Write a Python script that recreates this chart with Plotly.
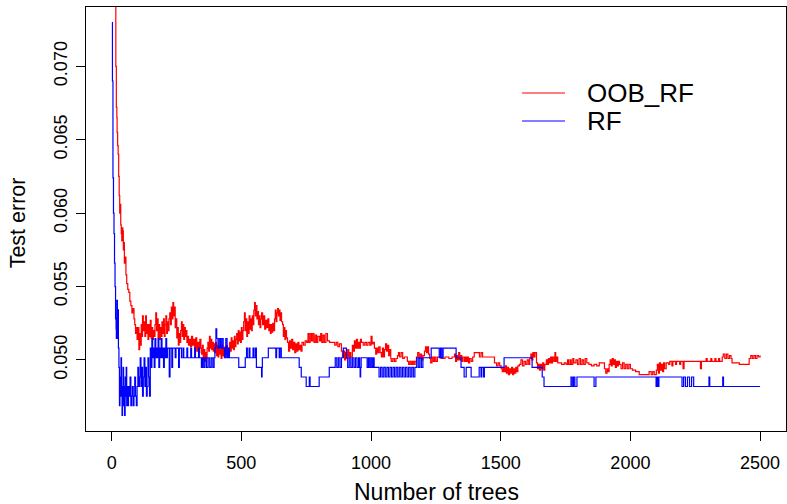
import plotly.graph_objects as go

# ---- data (tree count, test error) ----
series_names = ["OOB_RF", "RF"]
series_colors = ["#ff0000", "#0000ff"]

oob_rf_curve = [
(1,0.0850),(8,0.0790),(14,0.0745),(16,0.0700),(18,0.0672),(20,0.0665),(21,0.0655),(23,0.0646),(25,0.0640),(27,0.0625),(29,0.0612),(31,0.0600),(33,0.0606),(35,0.0592),(37,0.0586),(39,0.0581),(41,0.0590),(43,0.0588),(45,0.0575),(47,0.0580),(49,0.0566),(52,0.0570),(55,0.0558),(58,0.0552),(62,0.0548),(66,0.0546),(70,0.0540),(74,0.0537),(78,0.0532),(82,0.0535),(86,0.0528),(89,0.0524),(92,0.0518),(95,0.0522),(98,0.0514),(102,0.0522),(105,0.0507),(108,0.0518),(111,0.0510),(114,0.0524),(116,0.0516),(119,0.0530),(122,0.0520),(125,0.0526),(128,0.0516),(131,0.0530),(134,0.0518),(137,0.0524),(140,0.0514),(143,0.0524),(146,0.0516),(149,0.0527),(152,0.0515),(155,0.0522),(158,0.0514),(161,0.0520),(164,0.0516),(167,0.0524),(170,0.0532),(173,0.0520),(176,0.0528),(179,0.0515),(182,0.0524),(185,0.0514),(188,0.0522),(191,0.0516),(194,0.0526),(197,0.0518),(200,0.0528),(203,0.0516),(206,0.0524),(209,0.0530),(212,0.0518),(215,0.0526),(218,0.0520),(221,0.0528),(224,0.0532),(227,0.0524),(230,0.0536),(233,0.0528),(236,0.0539),(239,0.0530),(242,0.0536),(245,0.0522),(248,0.0528),(251,0.0515),(254,0.0522),(257,0.0510),(260,0.0518),(263,0.0512),(266,0.0520),(269,0.0526),(272,0.0516),(275,0.0524),(278,0.0514),(281,0.0522),(284,0.0516),(287,0.0520),(290,0.0512),(293,0.0516),(296,0.0510),(300,0.0514),(304,0.0509),(308,0.0516),(312,0.0510),(316,0.0514),(320,0.0508),(324,0.0515),(328,0.0506),(332,0.0512),(336,0.0505),(340,0.0514),(344,0.0508),(347,0.0504),(350,0.0510),(353,0.0500),(356,0.0507),(359,0.0499),(362,0.0505),(365,0.0501),(368,0.0508),(371,0.0512),(374,0.0506),(377,0.0516),(380,0.0508),(383,0.0514),(386,0.0507),(389,0.0512),(392,0.0506),(395,0.0511),(398,0.0505),(401,0.0512),(404,0.0503),(407,0.0510),(410,0.0502),(413,0.0509),(416,0.0504),(419,0.0507),(422,0.0501),(425,0.0510),(428,0.0503),(431,0.0508),(434,0.0502),(437,0.0509),(440,0.0504),(443,0.0510),(446,0.0503),(449,0.0508),(452,0.0505),(455,0.0512),(458,0.0506),(461,0.0515),(464,0.0508),(467,0.0513),(470,0.0507),(473,0.0516),(476,0.0509),(479,0.0514),(482,0.0518),(485,0.0511),(488,0.0520),(491,0.0513),(494,0.0519),(497,0.0512),(500,0.0522),(503,0.0514),(506,0.0520),(509,0.0526),(512,0.0532),(515,0.0520),(518,0.0528),(521,0.0516),(524,0.0526),(527,0.0518),(530,0.0530),(533,0.0521),(536,0.0528),(539,0.0520),(542,0.0530),(545,0.0524),(548,0.0534),(551,0.0539),(554,0.0530),(557,0.0537),(560,0.0528),(563,0.0533),(566,0.0524),(569,0.0530),(572,0.0522),(575,0.0528),(578,0.0532),(582,0.0524),(586,0.0530),(590,0.0521),(594,0.0527),(598,0.0522),(602,0.0528),(606,0.0520),(609,0.0524),(612,0.0518),(615,0.0524),(618,0.0519),(621,0.0525),(624,0.0520),(628,0.0528),(631,0.0534),(634,0.0526),(637,0.0532),(640,0.0535),(643,0.0530),(646,0.0534),(649,0.0527),(652,0.0532),(655,0.0526),(659,0.0524),(662,0.0516),(665,0.0522),(668,0.0514),(671,0.0520),(674,0.0515),(678,0.0512),(682,0.0506),(686,0.0513),(690,0.0508),(694,0.0514),(698,0.0507),(702,0.0512),(706,0.0505),(710,0.0511),(714,0.0506),(718,0.0512),(722,0.0507),(726,0.0510),(730,0.0506),(734,0.0512),(740,0.0510),(746,0.0513),(752,0.0512),(757,0.0518),(760,0.0512),(765,0.0518),(770,0.0513),(775,0.0518),(780,0.0512),(785,0.0517),(790,0.0512),(795,0.0516),(802,0.0513),(806,0.0518),(810,0.0512),(815,0.0517),(820,0.0512),(826,0.0518),(832,0.0513),(840,0.0512),(860,0.0510),(866,0.0512),(872,0.0509),(878,0.0511),(886,0.0506),(890,0.0502),(894,0.0506),(898,0.0500),(902,0.0505),(906,0.0501),(910,0.0507),(914,0.0502),(918,0.0505),(922,0.0502),(928,0.0510),(932,0.0506),(936,0.0513),(940,0.0508),(944,0.0514),(948,0.0508),(952,0.0512),(956,0.0508),(959,0.0514),(963,0.0512),(970,0.0510),(976,0.0512),(982,0.0510),(988,0.0512),(995,0.0510),(1000,0.0516),(1004,0.0511),(1008,0.0512),(1013,0.0508),(1018,0.0504),(1022,0.0508),(1026,0.0505),(1030,0.0509),(1035,0.0505),(1040,0.0502),(1044,0.0508),(1048,0.0502),(1052,0.0507),(1056,0.0511),(1060,0.0506),(1064,0.0510),(1068,0.0503),(1072,0.0507),(1076,0.0501),(1078,0.0499),(1084,0.0501),(1090,0.0499),(1096,0.0501),(1102,0.0503),(1106,0.0505),(1110,0.0502),(1116,0.0505),(1122,0.0501),(1128,0.0502),(1140,0.0499),(1145,0.0497),(1150,0.0499),(1155,0.0497),(1160,0.0499),(1165,0.0497),(1170,0.0499),(1175,0.0502),(1180,0.0505),(1185,0.0501),(1190,0.0504),(1195,0.0500),(1200,0.0503),(1206,0.0506),(1210,0.0509),(1214,0.0505),(1218,0.0509),(1222,0.0504),(1226,0.0501),(1230,0.0498),(1235,0.0502),(1240,0.0499),(1245,0.0502),(1250,0.0499),(1256,0.0502),(1270,0.0501),(1285,0.0502),(1300,0.0501),(1312,0.0502),(1322,0.0504),(1326,0.0499),(1330,0.0503),(1334,0.0500),(1338,0.0505),(1342,0.0500),(1346,0.0503),(1350,0.0499),(1354,0.0502),(1360,0.0499),(1364,0.0502),(1368,0.0499),(1372,0.0502),(1376,0.0498),(1380,0.0501),(1386,0.0499),(1392,0.0502),(1398,0.0505),(1418,0.0502),(1424,0.0505),(1430,0.0502),(1436,0.0502),(1476,0.0498),(1484,0.0496),(1490,0.0498),(1496,0.0496),(1502,0.0494),(1506,0.0492),(1510,0.0495),(1514,0.0492),(1518,0.0496),(1522,0.0491),(1526,0.0495),(1530,0.0490),(1534,0.0494),(1538,0.0491),(1542,0.0495),(1546,0.0490),(1550,0.0494),(1554,0.0491),(1558,0.0495),(1562,0.0492),(1566,0.0496),(1572,0.0497),(1578,0.0500),(1584,0.0496),(1590,0.0499),(1596,0.0497),(1602,0.0500),(1608,0.0497),(1612,0.0501),(1616,0.0504),(1620,0.0500),(1624,0.0505),(1628,0.0502),(1632,0.0505),(1638,0.0498),(1642,0.0494),(1646,0.0497),(1650,0.0493),(1654,0.0497),(1658,0.0494),(1662,0.0498),(1666,0.0493),(1670,0.0497),(1676,0.0500),(1680,0.0497),(1684,0.0501),(1688,0.0498),(1692,0.0502),(1696,0.0498),(1700,0.0502),(1705,0.0499),(1709,0.0505),(1712,0.0499),(1716,0.0502),(1720,0.0498),(1726,0.0498),(1735,0.0497),(1745,0.0498),(1752,0.0497),(1758,0.0500),(1762,0.0497),(1768,0.0500),(1772,0.0497),(1778,0.0501),(1782,0.0498),(1790,0.0500),(1796,0.0497),(1802,0.0501),(1808,0.0497),(1814,0.0500),(1820,0.0497),(1826,0.0501),(1832,0.0498),(1840,0.0497),(1850,0.0496),(1860,0.0497),(1870,0.0496),(1880,0.0498),(1900,0.0494),(1905,0.0491),(1910,0.0494),(1914,0.0492),(1918,0.0497),(1922,0.0500),(1926,0.0496),(1930,0.0501),(1934,0.0497),(1938,0.0500),(1942,0.0495),(1946,0.0499),(1950,0.0496),(1954,0.0499),(1958,0.0497),(1964,0.0494),(1970,0.0498),(1976,0.0494),(1982,0.0497),(1988,0.0494),(1994,0.0497),(2000,0.0494),(2008,0.0493),(2020,0.0492),(2034,0.0490),(2072,0.0492),(2080,0.0490),(2086,0.0492),(2092,0.0490),(2100,0.0493),(2104,0.0497),(2108,0.0491),(2112,0.0498),(2116,0.0493),(2120,0.0497),(2124,0.0492),(2128,0.0498),(2132,0.0494),(2138,0.0498),(2148,0.0497),(2152,0.0499),(2160,0.0496),(2164,0.0499),(2174,0.0497),(2178,0.0499),(2190,0.0497),(2194,0.0499),(2203,0.0494),(2207,0.0499),(2270,0.0494),(2274,0.0499),(2292,0.0501),(2296,0.0499),(2310,0.0501),(2314,0.0499),(2326,0.0501),(2330,0.0499),(2340,0.0501),(2344,0.0499),(2354,0.0502),(2358,0.0504),(2364,0.0501),(2370,0.0504),(2376,0.0501),(2382,0.0503),(2388,0.0501),(2392,0.0498),(2420,0.0497),(2440,0.0497),(2458,0.0501),(2464,0.0503),(2470,0.0501),(2476,0.0503),(2482,0.0501),(2488,0.0503),(2494,0.0502),(2500,0.0503)]

rf_curve = [
(1,0.07297),(3,0.0690),(5,0.0624),(7,0.0600),(9,0.0586),(11,0.0566),(13,0.0550),(15,0.0528),(17,0.05211),(18,0.05146),(20,0.05406),(22,0.05146),(24,0.05341),(26,0.05080),(28,0.04950),(30,0.04689),
(32,0.04884),(34,0.04754),(36,0.05015),(38,0.04819),(40,0.04623),(42,0.04754),(44,0.04950),(46,0.04689),(48,0.04819),(50,0.04623),(52,0.04884),(54,0.04754),(56,0.04950),(58,0.04689),(60,0.04819),
(62,0.04689),(65,0.04819),(68,0.04754),(71,0.04884),(74,0.04689),(77,0.04754),(80,0.04819),(83,0.04689),(86,0.04754),(89,0.04884),(92,0.04754),(95,0.04689),(98,0.04819),
(101,0.04950),(104,0.04819),(107,0.04884),(110,0.05015),(113,0.04819),(116,0.04950),(119,0.04754),(122,0.04884),(125,0.05015),(128,0.04819),(131,0.04950),(134,0.04754),(137,0.04819),(140,0.05015),(143,0.04884),(146,0.04754),
(149,0.05080),(152,0.04950),(155,0.05146),(158,0.05015),(161,0.05080),(164,0.04950),(167,0.05146),(170,0.05015),(173,0.05080),(176,0.05015),(179,0.05146),(182,0.04950),(185,0.05080),(188,0.05015),(191,0.05146),(194,0.05015),(197,0.05080),(200,0.04950),(203,0.05080),(206,0.05015),(209,0.05146),(212,0.05015),
(215,0.05080),(222,0.04884),(225,0.05080),(232,0.04950),(235,0.05080),(245,0.05015),(248,0.05080),(258,0.04950),(261,0.05080),
(269,0.05015),(275,0.05080),(278,0.05015),(290,0.05080),(293,0.05015),(305,0.05080),(308,0.05015),(320,0.05080),(323,0.05015),(335,0.05080),(338,0.05015),
(346,0.04950),(350,0.05015),(355,0.04950),(360,0.05015),(366,0.04950),(372,0.05015),(378,0.04950),(384,0.05015),(390,0.04950),(395,0.05015),
(398,0.05080),(402,0.05211),(405,0.05146),(410,0.05080),(415,0.05146),(420,0.05080),(425,0.05146),(430,0.05080),
(435,0.05015),(440,0.05146),(445,0.05015),(450,0.05080),(454,0.05015),(490,0.04950),(515,0.05015),(520,0.05080),(523,0.05015),(530,0.05080),(533,0.05015),(545,0.05080),(549,0.05015),(555,0.05080),(558,0.04950),(578,0.04884),(580,0.04950),(581,0.05015),(604,0.05080),(633,0.05015),(636,0.05080),(646,0.05015),(649,0.05080),(654,0.05015),(723,0.04950),(731,0.04884),(750,0.04819),(762,0.04884),(765,0.04819),(800,0.04884),(839,0.04950),(862,0.05015),(868,0.04950),(874,0.05015),(880,0.04950),(886,0.05015),(893,0.05080),(905,0.05015),(910,0.04950),(916,0.05015),(922,0.04950),(928,0.05015),(934,0.04950),(940,0.05015),(946,0.04950),(952,0.05015),(956,0.04950),(958,0.04884),(960,0.04950),(962,0.05015),
(985,0.04950),(990,0.05015),(995,0.04950),(1000,0.05015),(1005,0.04950),(1010,0.05015),(1012,0.04950),
(1031,0.04884),(1037,0.04950),(1043,0.04884),(1049,0.04950),(1055,0.04884),(1061,0.04950),(1067,0.04884),(1073,0.04950),(1079,0.04884),(1085,0.04950),(1091,0.04884),(1097,0.04950),(1103,0.04884),(1109,0.04950),(1115,0.04884),(1121,0.04950),(1127,0.04884),(1133,0.04950),(1139,0.04884),(1145,0.04950),(1151,0.04884),(1157,0.04950),(1163,0.04884),(1169,0.04950),
(1176,0.05015),(1182,0.04950),(1188,0.05015),(1194,0.04950),(1200,0.05015),(1232,0.05080),(1263,0.05015),(1268,0.05080),(1273,0.05015),(1278,0.05080),(1328,0.05015),(1347,0.04950),(1359,0.04884),(1367,0.04950),(1386,0.04884),(1417,0.04950),(1424,0.04884),(1427,0.04950),(1434,0.04884),(1437,0.04950),(1513,0.05015),(1621,0.04950),(1660,0.04884),(1667,0.04819),(1771,0.04884),(1776,0.04819),(1781,0.04884),(1786,0.04819),(1794,0.04884),(1860,0.04819),(1867,0.04884),(2099,0.04819),(2103,0.04884),(2107,0.04819),(2110,0.04884),(2199,0.04819),(2205,0.04884),(2212,0.04819),(2220,0.04884),(2228,0.04819),(2236,0.04884),(2244,0.04819),(2253,0.04819),(2303,0.04884),(2306,0.04819),(2356,0.04884),(2359,0.04819),(2500,0.04819)]

x_ticks = [0, 500, 1000, 1500, 2000, 2500]
y_ticks = [0.050, 0.055, 0.060, 0.065, 0.070]
y_tick_labels = ["0.050", "0.055", "0.060", "0.065", "0.070"]
x_title = "Number of trees"
y_title = "Test error"

FONT = "Liberation Sans, Arial, Helvetica, sans-serif"

fig = go.Figure()
for name, color, curve in zip(series_names, series_colors, [oob_rf_curve, rf_curve]):
    fig.add_trace(go.Scatter(
        x=[p[0] for p in curve], y=[p[1] for p in curve],
        mode="lines", name=name, line=dict(color=color, width=1.2, shape="hv"),
        showlegend=False))

# R-style axis ranges (4% padding on the RF range / tree count range)
all_rf = [p[1] for p in rf_curve]
ymin, ymax = min(all_rf), max(all_rf)
pad_y = 0.04 * (ymax - ymin)
xmin, xmax = 1, 2500
pad_x = 0.04 * (xmax - xmin)

fig.update_xaxes(range=[xmin - pad_x, xmax + pad_x], tickvals=x_ticks,
                 ticks="outside", ticklen=9, tickcolor="#000", tickwidth=1,
                 showline=True, mirror=True, linecolor="#000", linewidth=1,
                 showgrid=False, zeroline=False, ticklabelstandoff=6,
                 tickfont=dict(family=FONT, size=18, color="#000"))
fig.update_yaxes(range=[ymin - pad_y, ymax + pad_y], tickvals=y_ticks, ticktext=y_tick_labels,
                 ticks="outside", ticklen=9, tickcolor="#000", tickwidth=1,
                 showline=True, mirror=True, linecolor="#000", linewidth=1,
                 showgrid=False, zeroline=False, tickangle=-90, ticklabelstandoff=2,
                 tickfont=dict(family=FONT, size=18, color="#000"))

annotations = [
    dict(text=x_title, xref="paper", yref="paper", x=0.5, y=-0.143, xanchor="center", yanchor="middle",
         showarrow=False, font=dict(family=FONT, size=23, color="#000")),
    dict(text=y_title, xref="paper", yref="paper", x=-0.097, y=0.49, xanchor="center", yanchor="middle",
         textangle=-90, showarrow=False, font=dict(family=FONT, size=21.5, color="#000")),
]
shapes = []
legend_y = [0.7972, 0.7311]
for name, color, ly in zip(series_names, series_colors, legend_y):
    shapes.append(dict(type="line", xref="paper", yref="paper", x0=0.6229, x1=0.6843, y0=ly, y1=ly,
                       line=dict(color=color, width=1.2)))
    annotations.append(dict(text=name, xref="paper", yref="paper", x=0.7129, y=ly, xanchor="left",
                            yanchor="middle", showarrow=False, font=dict(family=FONT, size=26, color="#000")))

fig.update_layout(width=787, height=504, margin=dict(l=86, r=1, t=7, b=73),
                  paper_bgcolor="white", plot_bgcolor="white",
                  annotations=annotations, shapes=shapes)
fig.write_html("out.html")
